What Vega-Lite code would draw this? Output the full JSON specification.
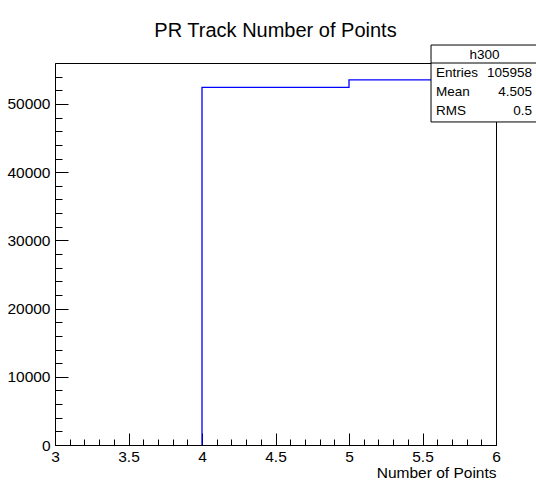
{
  "$schema": "https://vega.github.io/schema/vega-lite/v6.json",
  "width": 441,
  "height": 382,
  "autosize": {"type": "none"},
  "padding": {"left": 55, "top": 63, "right": 40, "bottom": 41},
  "background": "white",
  "title": {"text": "PR Track Number of Points", "fontSize": 20, "font": "Liberation Sans", "fontWeight": "normal", "color": "black", "anchor": "middle", "frame": "group", "offset": 4},
  "config": {
    "view": {"stroke": "black", "strokeWidth": 1},
    "font": "Liberation Sans",
    "axis": {"domainColor": "black", "tickColor": "black", "tickWidth": 1, "labelColor": "black", "labelFontSize": 15.5, "labelFont": "Liberation Sans", "grid": false, "zindex": 1, "labelOverlap": false, "labelBound": false, "labelFlush": false, "titleFont": "Liberation Sans", "titleFontWeight": "normal", "titleColor": "black", "titleFontSize": 15.5, "tickCount": 200}
  },
  "datasets": {
    "hist": [
      {"lo": 3, "hi": 4, "count": 0},
      {"lo": 4, "hi": 5, "count": 52420},
      {"lo": 5, "hi": 6, "count": 53538}
    ],
    "stats": [
      {"name": "Entries", "value": "105958"},
      {"name": "Mean", "value": "4.505"},
      {"name": "RMS", "value": "0.5"}
    ],
    "box": [{"title": "h300"}]
  },
  "layer": [
    {
      "data": {"name": "hist"},
      "layer": [
        {
          "transform": [
            {"fold": ["lo", "hi"], "as": ["edge", "x"]},
            {"filter": "datum.count > 0 || datum.edge == 'hi'"}
          ],
          "mark": {"type": "line", "color": "#0000ff", "strokeWidth": 1.3},
          "encoding": {
            "x": {"field": "x", "type": "quantitative", "scale": {"domain": [3, 6], "nice": false, "zero": false},
              "axis": {"title": "Number of Points", "titleAnchor": "end", "titleAlign": "right", "titlePadding": -5, "tickCount": 200,
                "values": [3, 3.1, 3.2, 3.3, 3.4, 3.5, 3.6, 3.7, 3.8, 3.9, 4, 4.1, 4.2, 4.3, 4.4, 4.5, 4.6, 4.7, 4.8, 4.9, 5, 5.1, 5.2, 5.3, 5.4, 5.5, 5.6, 5.7, 5.8, 5.9, 6],
                "tickSize": {"condition": {"test": "abs(datum.value*2-round(datum.value*2))<0.001", "value": -12}, "value": -6},
                "labelExpr": "abs(datum.value*2-round(datum.value*2))<0.001 ? format(datum.value,'') : ''",
                "labelPadding": 16}},
            "y": {"field": "count", "type": "quantitative", "scale": {"domain": [0, 56000], "nice": false},
              "axis": {"title": null, "tickCount": 200,
                "values": [0, 2000, 4000, 6000, 8000, 10000, 12000, 14000, 16000, 18000, 20000, 22000, 24000, 26000, 28000, 30000, 32000, 34000, 36000, 38000, 40000, 42000, 44000, 46000, 48000, 50000, 52000, 54000],
                "tickSize": {"condition": {"test": "datum.value % 10000 === 0", "value": -13}, "value": -7},
                "labelExpr": "datum.value % 10000 === 0 ? format(datum.value,'d') : ''",
                "labelPadding": 18}},
            "order": [{"field": "lo", "type": "quantitative"}, {"field": "edge", "type": "ordinal", "sort": "descending"}]
          }
        },
        {
          "data": {"name": "box"},
          "mark": {"type": "rect", "fill": "white", "stroke": "black", "strokeWidth": 1, "clip": false},
          "encoding": {"x": {"datum": 5.558}, "x2": {"datum": 6.29}, "y": {"datum": 58635}, "y2": {"datum": 47356}}
        },
        {
          "data": {"name": "box"},
          "mark": {"type": "rule", "color": "black", "strokeWidth": 1, "clip": false},
          "encoding": {"x": {"datum": 5.558}, "x2": {"datum": 6.29}, "y": {"datum": 56000}}
        },
        {
          "data": {"name": "box"},
          "mark": {"type": "text", "align": "center", "baseline": "middle", "fontSize": 13.5, "color": "black", "clip": false},
          "encoding": {"x": {"datum": 5.922}, "y": {"datum": 57170}, "text": {"field": "title"}}
        }
      ]
    },
    {
      "data": {"name": "stats"},
      "encoding": {"y": {"field": "name", "type": "ordinal", "scale": {"type": "point", "domain": ["Entries", "Mean", "RMS"], "range": [10.3, 47.7], "padding": 0}, "axis": null}},
      "layer": [
        {"mark": {"type": "text", "align": "left", "baseline": "middle", "fontSize": 13.5, "color": "black", "clip": false},
          "encoding": {"x": {"datum": 5.592}, "text": {"field": "name"}}},
        {"mark": {"type": "text", "align": "right", "baseline": "middle", "fontSize": 13.5, "color": "black", "clip": false},
          "encoding": {"x": {"datum": 6.245}, "text": {"field": "value"}}}
      ]
    }
  ],
  "resolve": {"scale": {"y": "independent"}}
}
